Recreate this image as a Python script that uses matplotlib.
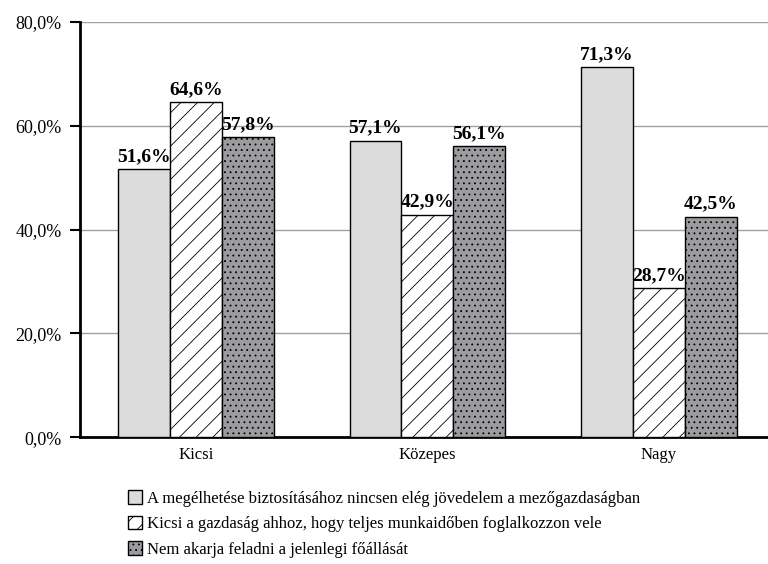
import numpy as np
import matplotlib.pyplot as plt

plt.rcParams['font.family'] = ['Liberation Serif', 'DejaVu Serif']
plt.rcParams['hatch.linewidth'] = 0.6

categories = ['Kicsi', 'Közepes', 'Nagy']
series_names = [
    'A megélhetése biztosításához nincsen elég jövedelem a mezőgazdaságban',
    'Kicsi a gazdaság ahhoz, hogy teljes munkaidőben foglalkozzon vele',
    'Nem akarja feladni a jelenlegi főállását',
]
income = [51.6, 57.1, 71.3]
too_small = [64.6, 42.9, 28.7]
main_job = [57.8, 56.1, 42.5]

fig = plt.figure(figsize=(7.68, 5.64), dpi=100)
ax = fig.add_axes([0.104, 0.225, 0.905, 0.736])

x = np.arange(len(categories))
w = 0.224
styles = [
    dict(facecolor='#dcdcdc', hatch=None),
    dict(facecolor='white', hatch='//'),
    dict(facecolor='#9c9ca0', hatch='...'),
]
for i, (vals, name, st) in enumerate(zip([income, too_small, main_job], series_names, styles)):
    bars = ax.bar(x + (i - 1) * w, vals, w, label=name, edgecolor='black',
                  linewidth=1.0, zorder=3, **st)
    for b, v in zip(bars, vals):
        ax.text(b.get_x() + b.get_width() / 2, v + 0.8, f'{v:.1f}%'.replace('.', ','),
                ha='center', va='bottom', fontsize=14, fontweight='bold', zorder=4)

ax.set_xlim(-0.5, 2.5)
ax.set_ylim(0, 80)
ax.set_yticks([0, 20, 40, 60, 80])
ax.set_yticklabels([f'{t:.1f}%'.replace('.', ',') for t in [0, 20, 40, 60, 80]])
ax.set_xticks(x)
ax.set_xticklabels(categories)
ax.tick_params(axis='y', labelsize=13, length=7, width=1.5, direction='out', pad=6)
ax.tick_params(axis='x', labelsize=12, length=0, pad=7)
ax.yaxis.grid(True, color='#a0a0a0', linewidth=1.0, zorder=0)
for s in ['top', 'right']:
    ax.spines[s].set_visible(False)
ax.spines['left'].set_linewidth(2)
ax.spines['bottom'].set_linewidth(2)

ax.legend(loc='upper left', bbox_to_anchor=(0.06, -0.112), frameon=False,
          fontsize=12, handlelength=0.85, handleheight=0.85, handletextpad=0.3,
          labelspacing=0.55, borderaxespad=0)

fig.savefig('out.png', dpi=100)
